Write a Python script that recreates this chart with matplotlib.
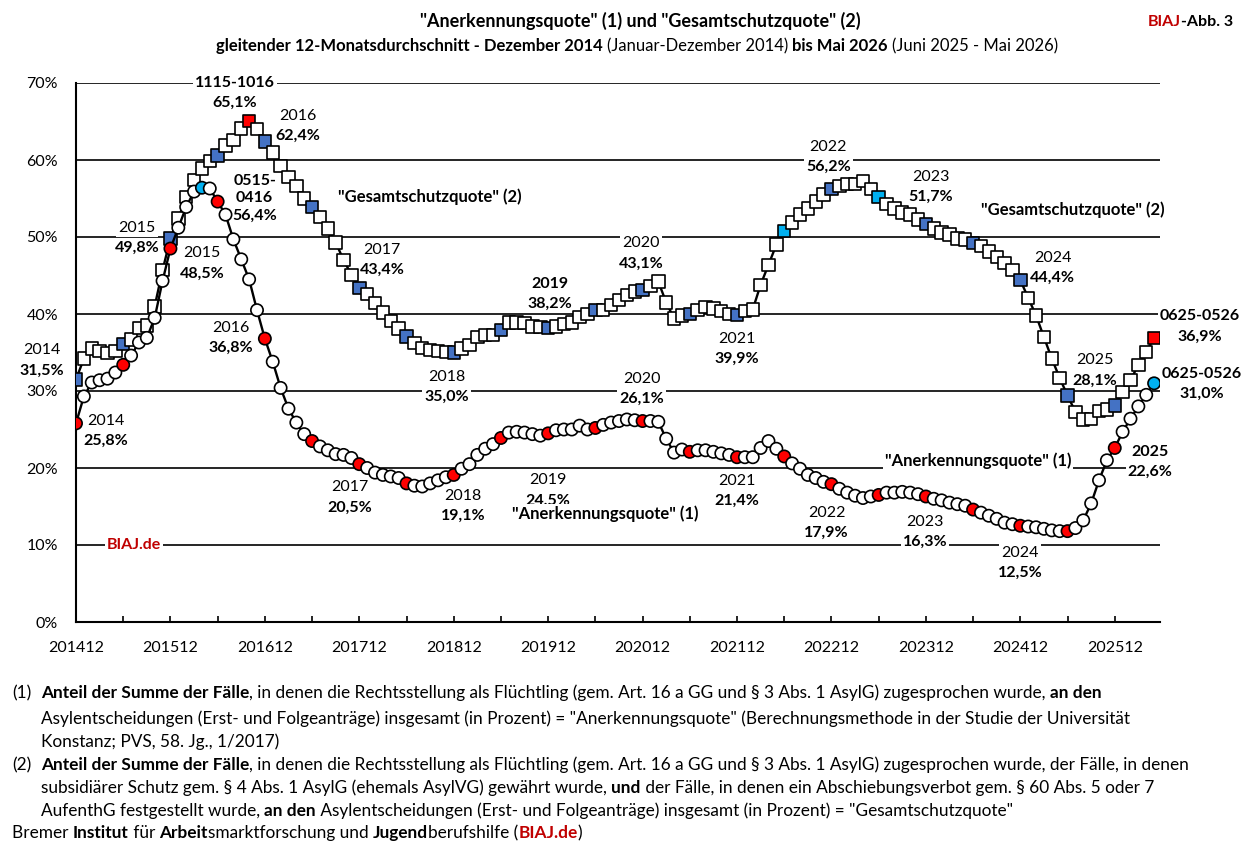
import matplotlib
matplotlib.use("Agg")
import matplotlib.pyplot as plt

plt.rcParams["font.family"] = ["Lato", "DejaVu Sans"]

# months Dec 2014 .. May 2026
months = [f"{2014 + (11 + i) // 12}{(11 + i) % 12 + 1:02d}" for i in range(138)]

# "Gesamtschutzquote" (2), 12-month moving average in %
gesamt = [
    31.5,
    34.2, 35.5, 35.2, 34.9, 35.2, 36.1, 36.7, 38.2, 38.5, 41.0, 45.7, 49.8,  # 2015
    52.4, 55.2, 57.4, 58.9, 59.9, 60.6, 61.9, 62.6, 64.1, 65.1, 64.0, 62.4,  # 2016
    61.0, 59.2, 57.8, 56.6, 55.0, 53.9, 52.6, 51.1, 49.3, 47.0, 45.1, 43.4,  # 2017
    42.6, 41.4, 40.2, 39.1, 38.1, 37.1, 36.2, 35.6, 35.3, 35.2, 35.1, 35.0,  # 2018
    35.5, 36.0, 37.0, 37.3, 37.3, 37.9, 38.9, 38.9, 38.8, 38.4, 38.3, 38.2,  # 2019
    38.4, 38.7, 38.9, 39.6, 40.0, 40.5, 40.5, 41.2, 41.8, 42.5, 42.9, 43.1,  # 2020
    43.6, 44.2, 41.5, 39.4, 39.8, 40.0, 40.5, 40.9, 40.7, 40.4, 40.0, 39.9,  # 2021
    40.4, 40.6, 43.8, 46.4, 49.0, 50.8, 51.9, 52.9, 53.7, 54.6, 55.5, 56.2,  # 2022
    56.6, 56.9, 56.9, 57.3, 56.2, 55.2, 54.3, 53.7, 53.2, 52.9, 52.3, 51.7,  # 2023
    51.1, 50.6, 50.3, 49.8, 49.7, 49.2, 48.8, 48.1, 47.4, 46.6, 45.7, 44.4,  # 2024
    42.1, 39.8, 37.0, 34.2, 31.7, 29.4, 27.3, 26.3, 26.4, 27.4, 27.6, 28.1,  # 2025
    29.9, 31.4, 33.4, 35.1, 36.9,                                            # 2026
]

# "Anerkennungsquote" (1)
anerkennung = [
    25.8,
    29.3, 31.1, 31.4, 31.6, 32.4, 33.4, 34.6, 36.3, 36.9, 39.5, 44.3, 48.5,  # 2015
    51.2, 53.9, 55.9, 56.4, 56.3, 54.6, 52.9, 49.7, 47.1, 44.5, 40.5, 36.8,  # 2016
    33.8, 30.4, 27.7, 25.9, 24.4, 23.5, 22.8, 22.3, 21.8, 21.7, 21.3, 20.5,  # 2017
    20.0, 19.4, 19.1, 18.9, 18.7, 18.0, 17.7, 17.6, 18.0, 18.4, 18.8, 19.1,  # 2018
    19.9, 20.5, 21.7, 22.5, 23.1, 23.9, 24.6, 24.7, 24.6, 24.4, 24.2, 24.5,  # 2019
    24.9, 25.0, 25.0, 25.5, 25.0, 25.2, 25.6, 25.9, 26.1, 26.3, 26.2, 26.1,  # 2020
    26.1, 26.0, 23.8, 22.0, 22.4, 22.1, 22.3, 22.3, 22.1, 21.9, 21.7, 21.4,  # 2021
    21.4, 21.4, 22.6, 23.5, 22.5, 21.5, 20.6, 19.9, 19.1, 18.7, 18.2, 17.9,  # 2022
    17.3, 16.8, 16.4, 16.1, 16.3, 16.5, 16.8, 16.8, 16.9, 16.8, 16.6, 16.3,  # 2023
    16.0, 15.8, 15.5, 15.3, 15.1, 14.6, 14.2, 13.8, 13.4, 12.9, 12.7, 12.5,  # 2024
    12.4, 12.3, 12.1, 11.9, 11.8, 11.8, 12.2, 13.2, 15.4, 18.4, 21.0, 22.6,  # 2025
    24.7, 26.4, 28.0, 29.5, 31.0,                                            # 2026
]

W, H = 1246, 846
RED, DRED, BLUE, CYAN = "#FF0000", "#C00000", "#4472C4", "#00B0F0"

fig = plt.figure(figsize=(W / 100, H / 100), dpi=100)
renderer = fig.canvas.get_renderer()
ax = fig.add_axes([76 / W, 1 - 622 / H, (1160 - 76) / W, (622 - 83) / H])

x = list(range(len(months)))

# marker colours: every June/December highlighted
sq_col = [BLUE if i % 6 == 0 else "white" for i in x]
sq_col[months.index("201610")] = RED
sq_col[months.index("202206")] = CYAN
sq_col[months.index("202306")] = CYAN
sq_col[-1] = RED
ci_col = [RED if i % 6 == 0 else "white" for i in x]
ci_col[months.index("201604")] = CYAN
ci_col[-1] = CYAN

ax.plot(x, gesamt, color="black", lw=1.7, zorder=3)
ax.scatter(x, gesamt, marker="s", s=80, facecolors=sq_col, edgecolors="black",
           linewidths=1.2, zorder=4)
ax.plot(x, anerkennung, color="black", lw=1.7, zorder=5)
ax.scatter(x, anerkennung, marker="o", s=78, facecolors=ci_col, edgecolors="black",
           linewidths=1.2, zorder=6)

ax.set_xlim(0, 137.75)
ax.set_ylim(0, 70)
ax.set_yticks(range(0, 71, 10))
ax.set_yticklabels([f"{v}%" for v in range(0, 71, 10)])
ax.set_xticks(x[::12])
ax.set_xticklabels(months[::12])
ax.set_xticks(x[6::12], minor=True)
ax.tick_params(axis="y", length=0, pad=13, labelsize=11.5)
ax.tick_params(axis="x", which="both", direction="in", length=4, width=1.2, pad=14,
               labelsize=11.5)
ax.yaxis.grid(True, color="black", lw=1.2)
ax.set_axisbelow(True)
for s in ["top", "right"]:
    ax.spines[s].set_visible(False)
for s in ["left", "bottom"]:
    ax.spines[s].set_linewidth(1.5)

box = dict(facecolor="white", edgecolor="none", pad=1.5)


def year_label(xp, yp, top, value, top_bold=False):
    ax.text(xp, yp, top, ha="center", va="center", fontsize=11.5,
            fontweight="bold" if top_bold else "normal", bbox=box, zorder=2.5)
    ax.annotate(value, (xp, yp), xytext=(0, -14.5), textcoords="offset points",
                ha="center", va="center", fontsize=11.5, fontweight="bold",
                bbox=box, zorder=2.5, annotation_clip=False)


labels = [
    (20.2, 70.0, "1115-1016", "65,1%", True),
    (28.2, 65.7, "2016", "62,4%", False),
    (7.75, 51.2, "2015", "49,8%", False),
    (16.0, 47.9, "2015", "48,5%", False),
    (19.7, 38.2, "2016", "36,8%", False),
    (-4.3, 35.3, "2014", "31,5%", False),
    (3.8, 26.1, "2014", "25,8%", False),
    (38.9, 48.3, "2017", "43,4%", False),
    (47.1, 31.8, "2018", "35,0%", False),
    (60.2, 43.9, "2019", "38,2%", True),
    (71.8, 49.2, "2020", "43,1%", False),
    (84.0, 36.8, "2021", "39,9%", False),
    (34.8, 17.5, "2017", "20,5%", False),
    (49.2, 16.4, "2018", "19,1%", False),
    (60.0, 18.4, "2019", "24,5%", False),
    (71.9, 31.6, "2020", "26,1%", False),
    (84.0, 18.3, "2021", "21,4%", False),
    (95.6, 61.7, "2022", "56,2%", False),
    (108.6, 57.8, "2023", "51,7%", False),
    (124.1, 47.3, "2024", "44,4%", False),
    (142.8, 39.7, "0625-0526", "36,9%", True),
    (129.5, 34.0, "2025", "28,1%", False),
    (143.1, 32.2, "0625-0526", "31,0%", True),
    (136.5, 22.1, "2025", "22,6%", True),
    (95.4, 14.2, "2022", "17,9%", False),
    (107.9, 13.0, "2023", "16,3%", False),
    (120.0, 9.0, "2024", "12,5%", False),
]
for lx, ly, top, val, tb in labels:
    year_label(lx, ly, top, val, tb)

ax.text(22.7, 58.2, "0515-\n0416\n56,4%", ha="center", va="top", fontsize=11.5,
        fontweight="bold", linespacing=1.3, bbox=box, zorder=2.5)

for lx, ly, s in [(45.0, 55.2, '"Gesamtschutzquote" (2)'),
                  (126.7, 53.5, '"Gesamtschutzquote" (2)'),
                  (67.2, 14.0, '"Anerkennungsquote" (1)'),
                  (114.6, 20.9, '"Anerkennungsquote" (1)')]:
    ax.text(lx, ly, s, ha="center", va="center", fontsize=12, fontweight="bold",
            bbox=box, zorder=2.5)
ax.text(7.4, 10.0, "BIAJ.de", ha="center", va="center", fontsize=11.5,
        fontweight="bold", color=DRED, bbox=box, zorder=2.5)


# rich text lines (mixed bold / colour) placed in pixel coordinates
def text_width(s, size, bold):
    t = fig.text(0, 0, s + "|", fontsize=size, fontweight="bold" if bold else "normal")
    w = t.get_window_extent(renderer).width
    t.set_text("|")
    w -= t.get_window_extent(renderer).width
    t.remove()
    return w


def rich(xp, yp, parts, size, align="left"):
    # yp = visual middle of the line in pixels from top
    widths = [text_width(s, size, b) for s, b, c in parts]
    if align == "center":
        xp -= sum(widths) / 2
    elif align == "right":
        xp -= sum(widths)
    base = yp + 0.36 * size * 100 / 72
    for (s, b, c), w in zip(parts, widths):
        fig.text(xp / W, 1 - base / H, s, fontsize=size, color=c, va="baseline",
                 fontweight="bold" if b else "normal")
        xp += w


K = "black"
rich(640, 20, [('"Anerkennungsquote" (1) und "Gesamtschutzquote" (2)', True, K)], 13,
     "center")
rich(637, 45, [("gleitender 12-Monatsdurchschnitt - Dezember 2014 ", True, K),
               ("(Januar-Dezember 2014) ", False, K),
               ("bis Mai 2026 ", True, K),
               ("(Juni 2025 - Mai 2026)", False, K)], 12, "center")
rich(1233, 20, [("BIAJ", True, DRED), ("-Abb. 3", True, K)], 11.5, "right")

fs = 12.4
rich(12, 692, [("(1)", False, K)], fs)
rich(41, 692, [("Anteil der Summe der Fälle", True, K),
               (", in denen die Rechtsstellung als Flüchtling (gem. Art. 16 a GG und § 3 Abs. 1 "
                "AsylG) zugesprochen wurde, ", False, K), ("an den", True, K)], fs)
rich(41, 718, [("Asylentscheidungen (Erst- und Folgeanträge) insgesamt (in Prozent) = "
                "\"Anerkennungsquote\" (Berechnungsmethode in der Studie der Universität", False, K)], fs)
rich(41, 741, [("Konstanz; PVS, 58. Jg., 1/2017)", False, K)], fs)
rich(12, 764, [("(2)", False, K)], fs)
rich(41, 764, [("Anteil der Summe der Fälle", True, K),
               (", in denen die Rechtsstellung als Flüchtling (gem. Art. 16 a GG und § 3 Abs. 1 "
                "AsylG) zugesprochen wurde, der Fälle, in denen", False, K)], fs)
rich(41, 787, [("subsidiärer Schutz gem. § 4 Abs. 1 AsylG (ehemals AsylVG) gewährt wurde, ", False, K),
               ("und", True, K),
               (" der Fälle, in denen ein Abschiebungsverbot gem. § 60 Abs. 5 oder 7", False, K)], fs)
rich(41, 810, [("AufenthG festgestellt wurde, ", False, K), ("an den", True, K),
               (" Asylentscheidungen (Erst- und Folgeanträge) insgesamt (in Prozent) = "
                "\"Gesamtschutzquote\"", False, K)], fs)
rich(12, 832, [("Bremer ", False, K), ("Institut", True, K), (" für ", False, K),
               ("Arbeit", True, K), ("smarktforschung und ", False, K),
               ("Jugend", True, K), ("berufshilfe (", False, K), ("BIAJ.de", True, DRED),
               (")", False, K)], fs)

fig.savefig("out.png", dpi=100)
